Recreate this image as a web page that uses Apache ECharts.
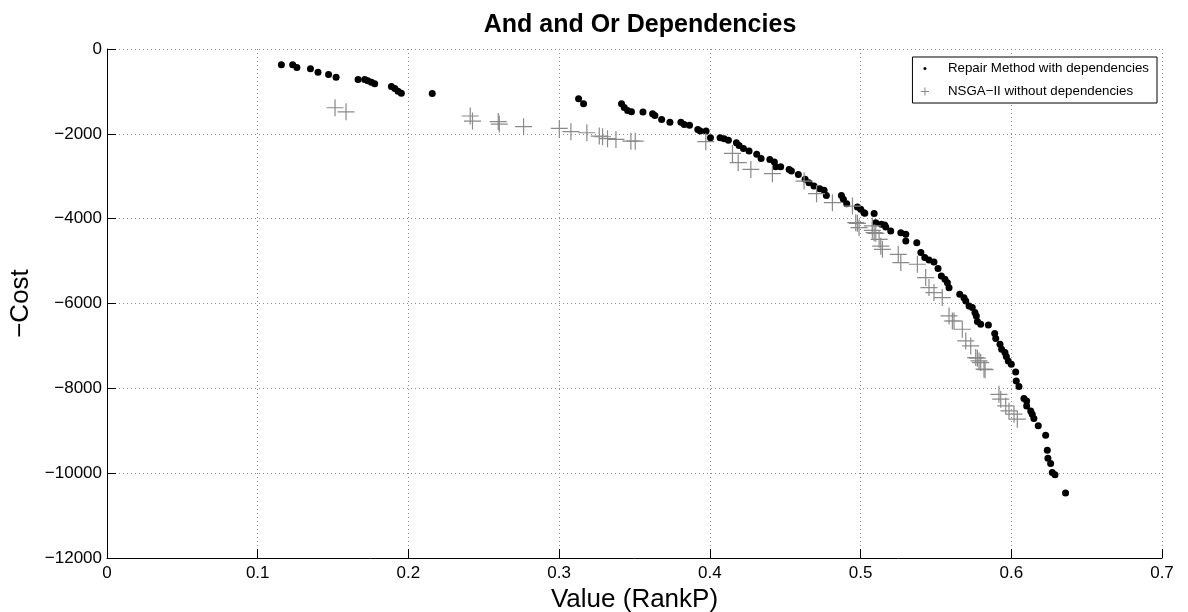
<!DOCTYPE html>
<html>
<head>
<meta charset="utf-8">
<title>And and Or Dependencies</title>
<script src="https://cdn.jsdelivr.net/npm/echarts@6/dist/echarts.min.js"></script>
<style>
  html, body { margin: 0; padding: 0; background: #fff; }
  #chart { width: 1188px; height: 612px; }
</style>
</head>
<body>
<div id="chart"></div>
<script>
// Axis ticks
const xTicks = [0, 0.1, 0.2, 0.3, 0.4, 0.5, 0.6, 0.7];
const yTicks = [-12000, -10000, -8000, -6000, -4000, -2000, 0];

// Series names
const seriesNames = ['Repair Method with dependencies', 'NSGA\u2212II without dependencies'];

// Repair method (with dependencies): [value (RankP), -cost]
const repairPoints = [
  [0.1157, -372], [0.1232, -372], [0.1260, -436], [0.1350, -467], [0.1400, -546],
  [0.1470, -601], [0.1520, -664], [0.1666, -718], [0.1710, -718], [0.1730, -750],
  [0.1754, -781], [0.1776, -820], [0.1887, -884], [0.1910, -930], [0.1931, -994],
  [0.1953, -1041], [0.2158, -1048],
  [0.3129, -1173], [0.3162, -1292], [0.3414, -1292], [0.3432, -1377], [0.3454, -1449],
  [0.3480, -1480], [0.3556, -1488], [0.3620, -1526], [0.3635, -1566], [0.3680, -1660],
  [0.3735, -1724], [0.3808, -1724], [0.3830, -1778], [0.3865, -1795], [0.3920, -1896],
  [0.3936, -1936], [0.3975, -1936], [0.4004, -2091], [0.4068, -2091], [0.4095, -2115],
  [0.4123, -2154], [0.4176, -2209], [0.4194, -2273], [0.4223, -2343], [0.4260, -2407],
  [0.4311, -2484], [0.4340, -2579], [0.4398, -2603], [0.4428, -2666], [0.4437, -2774],
  [0.4470, -2774], [0.4526, -2838], [0.4541, -2878], [0.4587, -2956], [0.4632, -3073],
  [0.4658, -3152], [0.4691, -3231], [0.4729, -3293], [0.4758, -3332], [0.4773, -3451],
  [0.4873, -3451], [0.4886, -3545], [0.4908, -3646], [0.4979, -3725], [0.5001, -3780],
  [0.5023, -3859], [0.5028, -3875], [0.5090, -3881], [0.5101, -4094], [0.5138, -4134],
  [0.5160, -4150], [0.5167, -4197], [0.5200, -4292], [0.5267, -4330], [0.5300, -4369],
  [0.5300, -4527], [0.5373, -4565], [0.5400, -4800], [0.5426, -4918], [0.5454, -4975],
  [0.5487, -5022], [0.5514, -5177], [0.5536, -5351], [0.5560, -5430], [0.5576, -5508],
  [0.5587, -5626], [0.5658, -5784], [0.5686, -5862], [0.5698, -5940], [0.5720, -6058],
  [0.5741, -6097], [0.5759, -6214], [0.5768, -6294], [0.5775, -6427], [0.5797, -6490],
  [0.5848, -6505], [0.5890, -6709], [0.5897, -6826], [0.5925, -6960], [0.5936, -7078],
  [0.5958, -7156], [0.5967, -7250], [0.5980, -7353], [0.6000, -7432], [0.6029, -7612],
  [0.6033, -7825], [0.6051, -7957], [0.6084, -8240], [0.6102, -8296], [0.6102, -8414],
  [0.6129, -8532], [0.6139, -8609], [0.6150, -8712], [0.6179, -8884], [0.6228, -9104],
  [0.6239, -9457], [0.6243, -9646], [0.6261, -9771], [0.6272, -9984], [0.6290, -10039],
  [0.6360, -10470]
];

// NSGA-II (without dependencies): [value (RankP), -cost]
const nsgaPoints = [
  [0.1513, -1385], [0.1586, -1480], [0.2410, -1580], [0.2425, -1700], [0.2596, -1710],
  [0.2603, -1770], [0.2764, -1832], [0.3001, -1872], [0.3078, -1950], [0.3184, -1974],
  [0.3266, -2054], [0.3288, -2069], [0.3321, -2115], [0.3377, -2132], [0.3476, -2172],
  [0.3505, -2172], [0.3973, -2186], [0.4150, -2462], [0.4188, -2681], [0.4272, -2838],
  [0.4415, -2939], [0.4625, -3113], [0.4708, -3410], [0.4813, -3623], [0.4946, -3702],
  [0.4968, -4094], [0.4979, -4110], [0.4990, -4212], [0.5078, -4172], [0.5078, -4275],
  [0.5090, -4330], [0.5101, -4345], [0.5123, -4486], [0.5134, -4648], [0.5145, -4723],
  [0.5250, -4840], [0.5267, -5036], [0.5377, -5075], [0.5432, -5389], [0.5454, -5624],
  [0.5487, -5742], [0.5542, -5861], [0.5587, -6294], [0.5609, -6412], [0.5620, -6412],
  [0.5675, -6607], [0.5698, -6883], [0.5731, -7000], [0.5764, -7274], [0.5775, -7290],
  [0.5786, -7353], [0.5797, -7392], [0.5819, -7548], [0.5826, -7560], [0.5918, -8142],
  [0.5930, -8256], [0.5963, -8414], [0.5985, -8532], [0.6018, -8609], [0.6040, -8728]
];

const FONT = '"Liberation Sans", Arial, Helvetica, sans-serif';
const minus = s => String(s).replace('-', '\u2212');

// Legend glyphs: a small dot / small plus on the left of a wider box so the text sits further right
const legendDot = 'path://M0,0 M24,12 M4.5,6 A1.5,1.5 0 1 1 7.5,6 A1.5,1.5 0 1 1 4.5,6 Z';
const legendPlus = 'path://M0,0 M24,12 M6,2 L6,10 M2,6 L10,6';
const plusSymbol = 'path://M0,-1 L0,1 M-1,0 L1,0';

const chart = echarts.init(document.getElementById('chart'), null, { renderer: 'canvas' });

chart.setOption({
  animation: false,
  backgroundColor: '#ffffff',
  title: {
    text: 'And and Or Dependencies',
    left: 635,
    textAlign: 'center',
    top: 8,
    textStyle: { fontFamily: FONT, fontWeight: 'bold', fontSize: 25, color: '#000' }
  },
  grid: { left: 107, right: 26, top: 49, bottom: 54, containLabel: false, outerBoundsMode: 'none' },
  legend: {
    orient: 'vertical',
    right: 31,
    top: 57,
    padding: [5, 8, 5, 6],
    itemGap: 10,
    itemWidth: 24,
    itemHeight: 12,
    backgroundColor: '#ffffff',
    borderColor: '#000',
    borderWidth: 1,
    borderRadius: 0,
    selectedMode: false,
    textStyle: { fontFamily: FONT, fontSize: 13.3, color: '#000' },
    data: [
      { name: seriesNames[0], icon: legendDot, itemStyle: { color: '#000', borderWidth: 0 } },
      { name: seriesNames[1], icon: legendPlus, itemStyle: { color: 'transparent', borderColor: '#8a8a8a', borderWidth: 1 } }
    ]
  },
  xAxis: {
    type: 'value',
    min: xTicks[0],
    max: xTicks[xTicks.length - 1],
    interval: 0.1,
    name: 'Value (RankP)',
    nameLocation: 'middle',
    nameGap: 23,
    nameTextStyle: { fontFamily: FONT, fontSize: 26, color: '#000' },
    axisLine: { show: true, onZero: false, lineStyle: { color: '#000', width: 1 } },
    axisTick: { show: true, inside: true, length: 9, lineStyle: { color: '#000' } },
    axisLabel: {
      margin: 7,
      fontFamily: FONT, fontSize: 17, color: '#000',
      formatter: v => String(Math.round(v * 10) / 10)
    },
    splitLine: { show: true, lineStyle: { color: '#8c8c8c', type: [1, 3], width: 1 } }
  },
  yAxis: {
    type: 'value',
    min: yTicks[0],
    max: yTicks[yTicks.length - 1],
    interval: 2000,
    name: '\u2212Cost',
    nameLocation: 'middle',
    nameGap: 73,
    nameRotate: 90,
    nameTextStyle: { fontFamily: FONT, fontSize: 26, color: '#000' },
    axisLine: { show: true, onZero: false, lineStyle: { color: '#000', width: 1 } },
    axisTick: { show: true, inside: true, length: 9, lineStyle: { color: '#000' } },
    axisLabel: {
      margin: 5,
      fontFamily: FONT, fontSize: 17, color: '#000',
      formatter: v => minus(v)
    },
    splitLine: { show: true, lineStyle: { color: '#8c8c8c', type: [1, 3], width: 1 } }
  },
  series: [
    {
      name: seriesNames[0],
      type: 'scatter',
      data: repairPoints,
      symbol: 'circle',
      symbolSize: 7,
      itemStyle: { color: '#000', borderWidth: 0, opacity: 1 },
      emphasis: { disabled: true },
      z: 2
    },
    {
      name: seriesNames[1],
      type: 'scatter',
      data: nsgaPoints,
      symbol: plusSymbol,
      symbolSize: 17,
      itemStyle: { color: 'transparent', borderColor: '#8a8a8a', borderWidth: 1.2, opacity: 1 },
      emphasis: { disabled: true },
      z: 3
    }
  ]
});
</script>
</body>
</html>
